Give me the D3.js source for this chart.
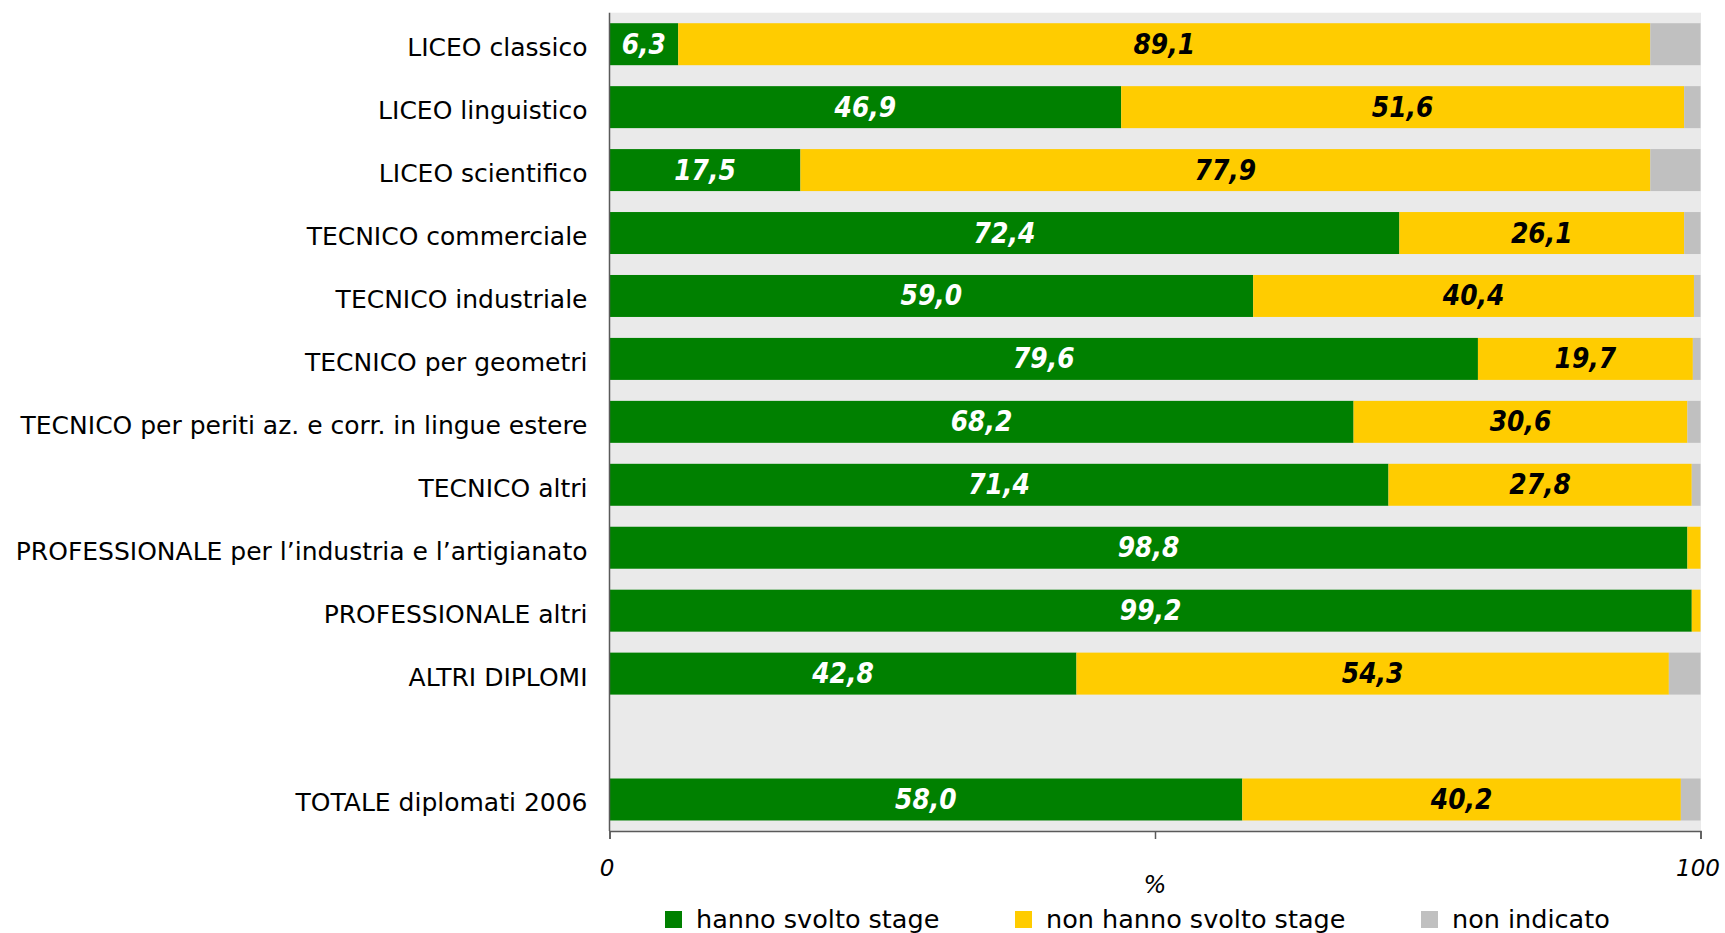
<!DOCTYPE html>
<html>
<head>
<meta charset="utf-8">
<script src="https://cdn.jsdelivr.net/npm/d3@7"></script>
<style>
  html, body { margin: 0; padding: 0; background: #ffffff; }
  svg { display: block; }
  text { font-family: "DejaVu Sans", Verdana, sans-serif; }
</style>
</head>
<body>
<svg id="chart" width="1725" height="933"></svg>
<script>
// ---- data ----
const categories = [
  "LICEO classico",
  "LICEO linguistico",
  "LICEO scientifico",
  "TECNICO commerciale",
  "TECNICO industriale",
  "TECNICO per geometri",
  "TECNICO per periti az. e corr. in lingue estere",
  "TECNICO altri",
  "PROFESSIONALE per l\u2019industria e l\u2019artigianato",
  "PROFESSIONALE altri",
  "ALTRI DIPLOMI",
  "",
  "TOTALE diplomati 2006"
];
const hannoSvolto    = [6.3, 46.9, 17.5, 72.4, 59.0, 79.6, 68.2, 71.4, 98.8, 99.2, 42.8, null, 58.0];
const nonHannoSvolto = [89.1, 51.6, 77.9, 26.1, 40.4, 19.7, 30.6, 27.8, 1.2, 0.8, 54.3, null, 40.2];
const nonIndicato    = [4.6, 1.5, 4.6, 1.5, 0.6, 0.7, 1.2, 0.8, 0.0, 0.0, 2.9, null, 1.8];
const seriesNames = ["hanno svolto stage", "non hanno svolto stage", "non indicato"];
const seriesColors = ["#008000", "#FFCC00", "#C0C0C0"];
const labelColors = ["#ffffff", "#000000", null];
const xTicks = [0, 50, 100];
const xTickLabels = ["0", "", "100"];
const xAxisTitle = "%";

// ---- layout ----
const svg = d3.select("#chart");
const plot = { left: 609.5, right: 1700.5, top: 12.7, bottom: 831 };

const x = d3.scaleLinear().domain([0, 100]).range([plot.left, plot.right]);
const y = d3.scaleBand()
  .domain(d3.range(categories.length))
  .range([plot.top, plot.bottom])
  .paddingInner(0.333)
  .paddingOuter(0.167);

// background
svg.append("rect")
  .attr("x", plot.left).attr("y", plot.top)
  .attr("width", plot.right - plot.left + 0.5)
  .attr("height", plot.bottom - plot.top)
  .attr("fill", "#EAEAEA");

// stacked data
const rows = categories.map((c, i) => ({
  i, cat: c,
  vals: [hannoSvolto[i], nonHannoSvolto[i], nonIndicato[i]]
}));

const segs = [];
rows.forEach(r => {
  if (r.vals[0] == null) return;
  let acc = 0;
  r.vals.forEach((v, s) => {
    segs.push({ i: r.i, s, x0: acc, x1: acc + v, v });
    acc += v;
  });
});

svg.append("g").selectAll("rect")
  .data(segs.filter(d => d.v > 0))
  .join("rect")
  .attr("x", d => x(d.x0))
  .attr("y", d => y(d.i))
  .attr("width", d => x(d.x1) - x(d.x0))
  .attr("height", y.bandwidth())
  .attr("fill", d => seriesColors[d.s]);

// value labels (slightly tall, like the original rendering)
const fmt = v => v.toFixed(1).replace(".", ",");
svg.append("g").selectAll("text")
  .data(segs.filter(d => labelColors[d.s] && d.v >= 5))
  .join("text")
  .attr("transform", d => `translate(${x((d.x0 + d.x1) / 2)},${y(d.i) + y.bandwidth() / 2 + 9.5}) scale(1,1.1)`)
  .attr("text-anchor", "middle")
  .attr("font-size", 25)
  .attr("font-weight", "bold")
  .attr("font-style", "italic")
  .attr("fill", d => labelColors[d.s])
  .text(d => fmt(d.v));

// category labels
svg.append("g").selectAll("text")
  .data(rows.filter(r => r.cat !== ""))
  .join("text")
  .attr("x", 587.5)
  .attr("y", r => y(r.i) + y.bandwidth() / 2 + 12)
  .attr("text-anchor", "end")
  .attr("font-size", 25)
  .attr("fill", "#000")
  .text(r => r.cat);

// axes lines
const axisColor = "#5a5a5a";
svg.append("line")
  .attr("x1", plot.left).attr("x2", plot.left)
  .attr("y1", plot.top).attr("y2", plot.bottom)
  .attr("stroke", axisColor).attr("stroke-width", 1.5);

const xAxis = d3.axisBottom(x).tickValues(xTicks).tickSize(8).tickFormat((d, i) => xTickLabels[i]);
const gx = svg.append("g").attr("transform", `translate(0,${plot.bottom})`).call(xAxis);
gx.select(".domain").attr("stroke", axisColor).attr("stroke-width", 1.5);
gx.selectAll(".tick line").attr("stroke", axisColor).attr("stroke-width", 1.5);
gx.selectAll(".tick text")
  .attr("y", 0).attr("dy", 0)
  .attr("transform", "translate(-3,45)")
  .attr("font-size", 23)
  .attr("font-style", "italic")
  .attr("font-family", "DejaVu Sans, sans-serif")
  .attr("fill", "#000");

svg.append("text")
  .attr("x", x(50)).attr("y", 892.5)
  .attr("text-anchor", "middle")
  .attr("font-size", 24)
  .attr("font-style", "italic")
  .text(xAxisTitle);

// legend
const legendX = [665, 1015, 1421];
const lg = svg.append("g").selectAll("g")
  .data(seriesNames)
  .join("g")
  .attr("transform", (d, i) => `translate(${legendX[i]},911)`);
lg.append("rect").attr("width", 17).attr("height", 17)
  .attr("fill", (d, i) => seriesColors[i]);
lg.append("text").attr("x", 31).attr("y", 17)
  .attr("font-size", 25.5)
  .attr("fill", "#000")
  .text(d => d);
</script>
</body>
</html>
